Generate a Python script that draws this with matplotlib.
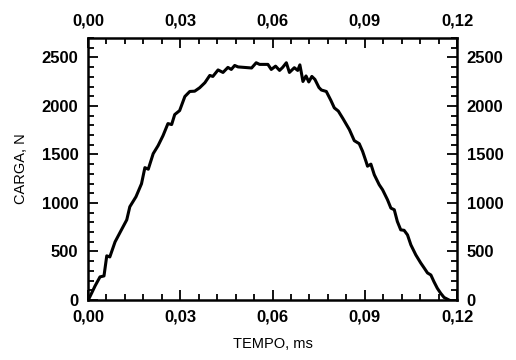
import matplotlib
matplotlib.use("Agg")
import matplotlib.pyplot as plt
from matplotlib.ticker import MultipleLocator, FuncFormatter

# load curve (time in ms, load in N)
tempo = [0.0001, 0.0012, 0.0023, 0.0039, 0.0052, 0.0061, 0.0071, 0.0088,
         0.0107, 0.0126, 0.0136, 0.0156, 0.0174, 0.0185, 0.0196, 0.0212,
         0.0228, 0.0244, 0.0260, 0.0272, 0.0282, 0.0298, 0.0315, 0.0331,
         0.0347, 0.0363, 0.0380, 0.0396, 0.0406, 0.0423, 0.0439, 0.0455,
         0.0466, 0.0477, 0.0488, 0.0532, 0.0547, 0.0558, 0.0585, 0.0596,
         0.0610, 0.0623, 0.0633, 0.0645, 0.0655, 0.0671, 0.0682, 0.0689,
         0.0694, 0.0699, 0.0709, 0.0718, 0.0728, 0.0738, 0.0751, 0.0759,
         0.0775, 0.0790, 0.0801, 0.0814, 0.0829, 0.0850, 0.0866, 0.0882,
         0.0893, 0.0904, 0.0909, 0.0920, 0.0931, 0.0947, 0.0958, 0.0974,
         0.0985, 0.0996, 0.1006, 0.1017, 0.1028, 0.1039, 0.1050, 0.1066,
         0.1082, 0.1093, 0.1104, 0.1115, 0.1125, 0.1136, 0.1147, 0.1158,
         0.1174]
carga = [0, 72, 145, 238, 248, 455, 444, 599,
         713, 826, 961, 1064, 1198, 1364, 1348, 1508,
         1591, 1694, 1818, 1808, 1911, 1952, 2097, 2149,
         2152, 2187, 2239, 2314, 2304, 2371, 2345, 2397,
         2376, 2417, 2402, 2391, 2445, 2428, 2428, 2376,
         2410, 2366, 2397, 2445, 2345, 2394, 2366, 2423,
         2340, 2252, 2309, 2247, 2304, 2273, 2190, 2164,
         2149, 2056, 1980, 1947, 1870, 1756, 1642, 1611,
         1532, 1429, 1379, 1400, 1291, 1188, 1136, 1033,
         947, 930, 809, 723, 718, 671, 568, 465,
         382, 331, 279, 258, 189, 121, 69, 26,
         0]

plt.rcParams['font.family'] = ['Liberation Sans', 'DejaVu Sans']

fig = plt.figure(figsize=(5.16, 3.6), dpi=100)
ax = fig.add_axes([88 / 516, 60 / 360, 369 / 516, 262 / 360])

ax.plot(tempo, carga, color='black', lw=2.2, solid_joinstyle='round')

ax.set_xlim(0, 0.12)
ax.set_ylim(0, 2700)

ax.xaxis.set_major_locator(MultipleLocator(0.03))
ax.xaxis.set_minor_locator(MultipleLocator(0.006))
ax.yaxis.set_major_locator(MultipleLocator(500))
ax.yaxis.set_minor_locator(MultipleLocator(100))
ax.xaxis.set_major_formatter(
    FuncFormatter(lambda v, p: '{:.2f}'.format(v).replace('.', ',')))
ax.yaxis.set_major_formatter(FuncFormatter(lambda v, p: '{:d}'.format(int(round(v)))))

ax.tick_params(which='both', direction='in', top=True, right=True,
               labeltop=True, labelright=True, width=1.3)
ax.tick_params(which='major', length=7, pad=7, labelsize=12)
ax.tick_params(which='minor', length=4)
for t in ax.xaxis.get_major_ticks() + ax.yaxis.get_major_ticks():
    t.label1.set_fontweight('bold')
    t.label2.set_fontweight('bold')

for s in ax.spines.values():
    s.set_linewidth(1.8)

ax.set_xlabel('TEMPO, ms', fontsize=10.5, labelpad=9)
ax.set_ylabel('CARGA, N', fontsize=10.5, labelpad=10)

fig.savefig('out.png', dpi=100)
